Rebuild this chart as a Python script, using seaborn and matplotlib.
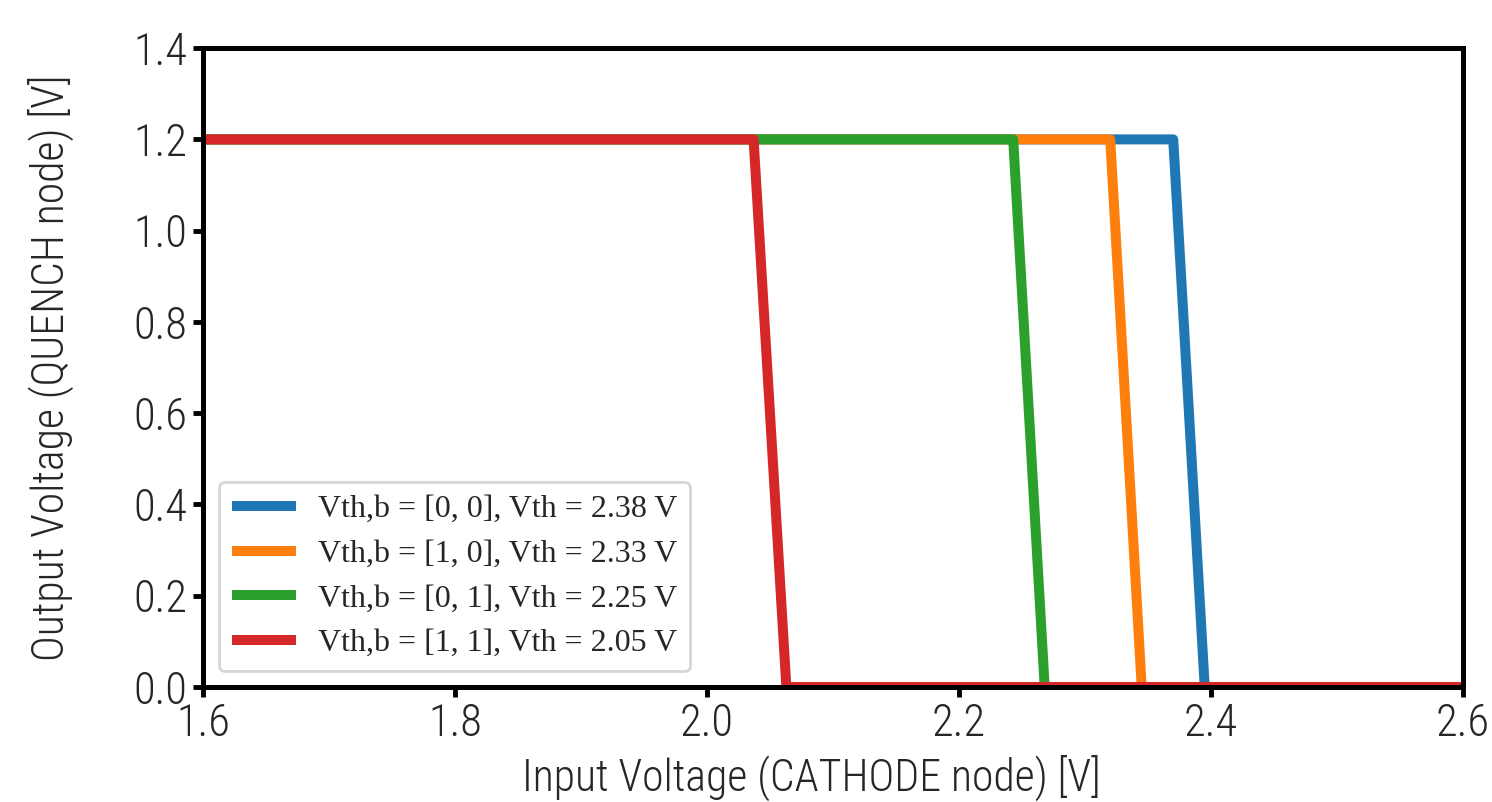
import matplotlib
matplotlib.use("Agg")
import matplotlib.pyplot as plt
from matplotlib import font_manager
import pandas as pd
import seaborn as sns

# switching points (V)
labels = [
    "Vth,b = [0, 0], Vth = 2.38 V",
    "Vth,b = [1, 0], Vth = 2.33 V",
    "Vth,b = [0, 1], Vth = 2.25 V",
    "Vth,b = [1, 1], Vth = 2.05 V",
]
x_high_end = [2.370, 2.320, 2.243, 2.037]
x_low_start = [2.395, 2.345, 2.268, 2.063]
v_in_min = 1.6
v_in_max = 2.6
v_high = 1.2
v_low = 0.0

rows = []
for lab, xa, xb in zip(labels, x_high_end, x_low_start):
    for x, y in [(v_in_min, v_high), (xa, v_high), (xb, v_low), (v_in_max, v_low)]:
        rows.append({"vin": x, "vout": y, "series": lab})
df = pd.DataFrame(rows)

sns.set_style("white")
available = {f.name for f in font_manager.fontManager.ttflist}
sans = [f for f in ["Liberation Sans Narrow", "Roboto Condensed", "Liberation Sans"] if f in available]
plt.rcParams["font.family"] = sans + ["DejaVu Sans"]
plt.rcParams["font.weight"] = "light"
plt.rcParams["axes.labelweight"] = "light"

fig = plt.figure(figsize=(14.92, 8.02), dpi=100)
ax = fig.add_axes([0.136, 0.1434, 0.8446, 0.7966])

sns.lineplot(data=df, x="vin", y="vout", hue="series", hue_order=labels,
             palette="tab10", estimator=None, sort=False, linewidth=7.2, ax=ax)

ax.set_xlim(1.6, 2.6)
ax.set_ylim(0.0, 1.4)
ax.set_xticks([1.6, 1.8, 2.0, 2.2, 2.4, 2.6])
ax.set_yticks([0.0, 0.2, 0.4, 0.6, 0.8, 1.0, 1.2, 1.4])
ax.xaxis.set_major_formatter(matplotlib.ticker.FormatStrFormatter("%.1f"))
ax.yaxis.set_major_formatter(matplotlib.ticker.FormatStrFormatter("%.1f"))
ax.set_xlabel("Input Voltage (CATHODE node) [V]", fontsize=31.5)
ax.set_ylabel("Output Voltage (QUENCH node) [V]", fontsize=31.5, labelpad=43)
ax.xaxis.set_label_coords(0.4825, -0.106)
ax.tick_params(axis="both", labelsize=32, direction="out", length=7, width=3.5,
               color="black", bottom=True, left=True, pad=4)
for sp in ax.spines.values():
    sp.set_linewidth(3.6)
    sp.set_color("black")

leg = ax.legend(loc="lower left", bbox_to_anchor=(0.0, 0.0), prop={"family": "Liberation Serif", "size": 23},
                handlelength=2.0, handletextpad=0.7, frameon=True, fancybox=True,
                borderpad=0.4, labelspacing=0.48)
leg.get_frame().set_edgecolor("#cccccc")
leg.get_frame().set_linewidth(2)
for h in leg.get_lines():
    h.set_linewidth(7.2)
    h.set_solid_capstyle("butt")

fig.savefig("out.png", dpi=100)
